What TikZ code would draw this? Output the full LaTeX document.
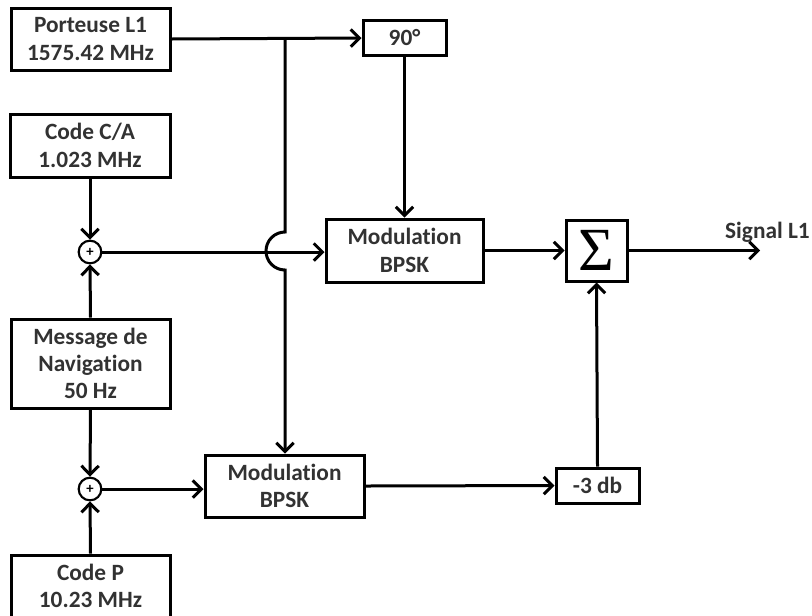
\documentclass[tikz,border=0pt]{standalone}
\usepackage{fontspec}
\setmainfont{Carlito}[Ligatures=NoCommon]
\newfontfamily\sigfont{Liberation Serif}
\usetikzlibrary{arrows.meta}
\definecolor{txt}{RGB}{50,50,50}
\tikzset{
  blk/.style={draw=black, line width=2.25pt, fill=white, align=center, inner sep=0pt,
    font=\fontsize{17.5}{20.5}\selectfont\bfseries, text=txt},
  sumc/.style={draw=black, circle, line width=1.6pt, fill=white, inner sep=0pt, minimum size=17pt,
    font=\fontsize{11}{11}\selectfont\bfseries},
  con/.style={line width=2.25pt, -{Straight Barb[length=6.5pt,width=13pt,line width=2.25pt]}},
  ln/.style={line width=2.25pt}
}
\begin{document}
\begin{tikzpicture}[x=0.75pt,y=-0.75pt]
\useasboundingbox (0,0) rectangle (812,615);
\clip (0,0) rectangle (812,615);
\node[blk, minimum width=119.25pt, minimum height=46.5pt] (port) at (90.5,39) {Porteuse L1\\1575.42 MHz};
\node[blk, minimum width=120pt, minimum height=47.25pt] (ca) at (90,145.5) {Code C/A\\1.023 MHz};
\node[blk, minimum width=119.25pt, minimum height=66.75pt] (msg) at (90.5,363.5) {Message de\\Navigation\\50 Hz};
\node[blk, minimum width=119.25pt, minimum height=46.5pt] (cp) at (90.5,586) {Code P\\10.23 MHz};
\node[blk, minimum width=62.25pt, minimum height=26.25pt] (ninety) at (404.5,38) {90°};
\node[blk, minimum width=117.75pt, minimum height=47.25pt] (modA) at (404.5,250.5) {Modulation\\BPSK};
\node[blk, minimum width=119.25pt, minimum height=46.5pt] (modB) at (284.5,486) {Modulation\\BPSK};
\node[blk, minimum width=45.75pt, minimum height=45.75pt, text=black] (sig) at (596.5,250.5) {\sigfont\mdseries\fontsize{46}{46}\selectfont Σ};
\node[blk, minimum width=62.25pt, minimum height=26.25pt] (db) at (597.5,485.5) {-3 db};
\node[sumc] (p1) at (90,252) {+};
\node[sumc] (p2) at (90,489) {+};
\node[font=\fontsize{17.5}{20.5}\selectfont\bfseries, text=txt, anchor=east, inner sep=0pt] (lab) at (810,232) {Signal L1};
\coordinate (out) at (760,250.5);
\coordinate (split) at (285,39);
\coordinate (hopT) at (285,232);

\draw[con] (port.east) -- (ninety.west);
\draw[con] (split) -- (hopT) arc[start angle=90, end angle=270, radius=14.25pt] -- (modB.north -| split);
\draw[con] (ninety.south) -- (modA.north);
\draw[con] (ca.south) -- (p1.north);
\draw[con] (msg.north) -- (p1.south);
\draw[con] (msg.south) -- (p2.north);
\draw[con] (cp.north) -- (p2.south);
\draw[con] (p1.east) -- (p1.east -| modA.west);
\draw[con] (p2.east) -- (p2.east -| modB.west);
\draw[con] (modA.east) -- (sig.west);
\draw[con] (sig.east) -- (out);
\draw[con] (modB.east) -- (db.west);
\draw[con] (db.north) -- (sig.south);
\end{tikzpicture}
\end{document}
